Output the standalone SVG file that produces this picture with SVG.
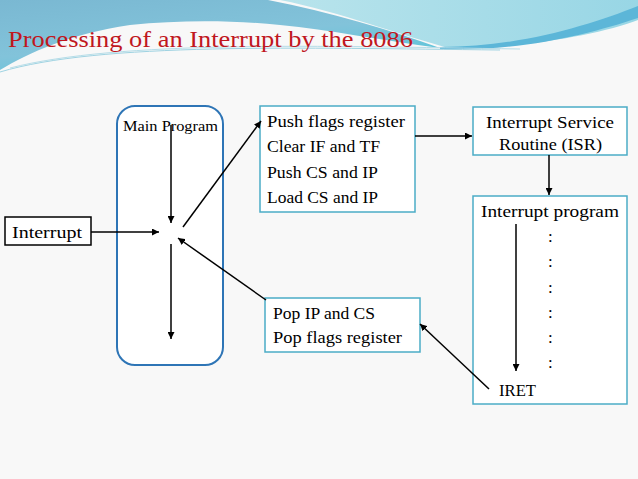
<svg xmlns="http://www.w3.org/2000/svg" width="638" height="479" viewBox="0 0 638 479">
<defs>
<linearGradient id="gBlue" x1="0" y1="0" x2="0.6" y2="1"><stop offset="0" stop-color="#7ab8d2"/><stop offset="0.6" stop-color="#82c3da"/><stop offset="1" stop-color="#5ec5da"/></linearGradient>
<linearGradient id="gCyan" x1="0" y1="0" x2="1" y2="0"><stop offset="0" stop-color="#b9e4ec"/><stop offset="1" stop-color="#98d6e5"/></linearGradient>
<marker id="ah" viewBox="0 0 10 10" refX="10" refY="5" markerWidth="7" markerHeight="7" markerUnits="userSpaceOnUse" orient="auto"><path d="M0,0 L10,5 L0,10 Z" fill="#000"/></marker>
<style>
.t{font-family:"Liberation Serif","Times New Roman",serif;fill:#000;}
.bx{fill:#fff;stroke:#4bacc6;stroke-width:1.5;}
.c{stroke:#000;stroke-width:1.5;fill:none;marker-end:url(#ah);}
</style>
</defs>
<rect width="638" height="479" fill="#f8f8f8"/>
<g id="header">
<path d="M280,0 H638 V20 C600,35 520,48 452,49 C400,35 340,12 280,0 Z" fill="url(#gCyan)"/>
<path d="M0,0 H268 C330,12 390,30 440,48 C380,40 330,30 280,25 C230,20 180,20 130,25 C70,34 30,52 0,70 Z" fill="url(#gBlue)"/>
<path d="M440,47 C520,47 590,25 638,6 V18 C590,34 520,52 440,49 Z" fill="#5cb6d8"/>
<path d="M0,72 C100,42 300,48 500,50" stroke="#9fd3e2" stroke-width="1" fill="none"/>
<path d="M10,68 C120,40 320,46 520,49" stroke="#b6dde8" stroke-width="1" fill="none"/>
<text x="8" y="47" font-family="Liberation Serif,serif" font-size="23" fill="#c0171e" textLength="405" lengthAdjust="spacingAndGlyphs">Processing of an Interrupt by the 8086</text>
</g>
<g id="main-program">
<rect x="117" y="106" width="106" height="259" rx="18" ry="18" fill="#fff" stroke="#2e75b6" stroke-width="2"/>
<text class="t" x="123" y="131" font-size="14" textLength="95" lengthAdjust="spacingAndGlyphs">Main Program</text>
</g>
<g id="interrupt">
<rect x="5" y="217" width="86" height="28" fill="#fff" stroke="#000" stroke-width="1.5"/>
<text class="t" x="12" y="238" font-size="17" textLength="70" lengthAdjust="spacingAndGlyphs">Interrupt</text>
</g>
<g id="push">
<rect class="bx" x="260" y="106" width="155" height="106"/>
<text class="t" x="267" y="127" font-size="17" textLength="138" lengthAdjust="spacingAndGlyphs">Push flags register</text>
<text class="t" x="267" y="152" font-size="17" textLength="113" lengthAdjust="spacingAndGlyphs">Clear IF and TF</text>
<text class="t" x="267" y="178" font-size="17" textLength="111" lengthAdjust="spacingAndGlyphs">Push CS and IP</text>
<text class="t" x="267" y="203" font-size="17" textLength="111" lengthAdjust="spacingAndGlyphs">Load CS and IP</text>
</g>
<g id="isr">
<rect class="bx" x="473" y="107" width="154" height="48"/>
<text class="t" x="486" y="128" font-size="17" textLength="128" lengthAdjust="spacingAndGlyphs">Interrupt Service</text>
<text class="t" x="499" y="150" font-size="17" textLength="103" lengthAdjust="spacingAndGlyphs">Routine (ISR)</text>
</g>
<g id="interrupt-program">
<rect class="bx" x="473" y="196" width="154" height="208"/>
<text class="t" x="481" y="217" font-size="17" textLength="138" lengthAdjust="spacingAndGlyphs">Interrupt program</text>
<text class="t" x="548" y="242" font-size="17">:</text>
<text class="t" x="548" y="267" font-size="17">:</text>
<text class="t" x="548" y="293" font-size="17">:</text>
<text class="t" x="548" y="318" font-size="17">:</text>
<text class="t" x="548" y="343" font-size="17">:</text>
<text class="t" x="548" y="368" font-size="17">:</text>
<text class="t" x="499" y="396" font-size="17" textLength="37" lengthAdjust="spacingAndGlyphs">IRET</text>
</g>
<g id="pop">
<rect class="bx" x="265" y="298" width="155" height="54"/>
<text class="t" x="273" y="319" font-size="17" textLength="102" lengthAdjust="spacingAndGlyphs">Pop IP and CS</text>
<text class="t" x="273" y="343" font-size="17" textLength="129" lengthAdjust="spacingAndGlyphs">Pop flags register</text>
</g>
<g id="connectors">
<line class="c" x1="171" y1="125" x2="171" y2="223"/>
<line class="c" x1="171" y1="244" x2="171" y2="339"/>
<line class="c" x1="91" y1="232" x2="159" y2="232"/>
<line class="c" x1="183" y1="227" x2="261" y2="121"/>
<line class="c" x1="266" y1="300" x2="178" y2="238"/>
<line class="c" x1="415" y1="136" x2="472" y2="136"/>
<line class="c" x1="549" y1="155" x2="549" y2="195"/>
<line class="c" x1="516" y1="224" x2="516" y2="371"/>
<line class="c" x1="489" y1="389" x2="420" y2="324"/>
</g>
</svg>
